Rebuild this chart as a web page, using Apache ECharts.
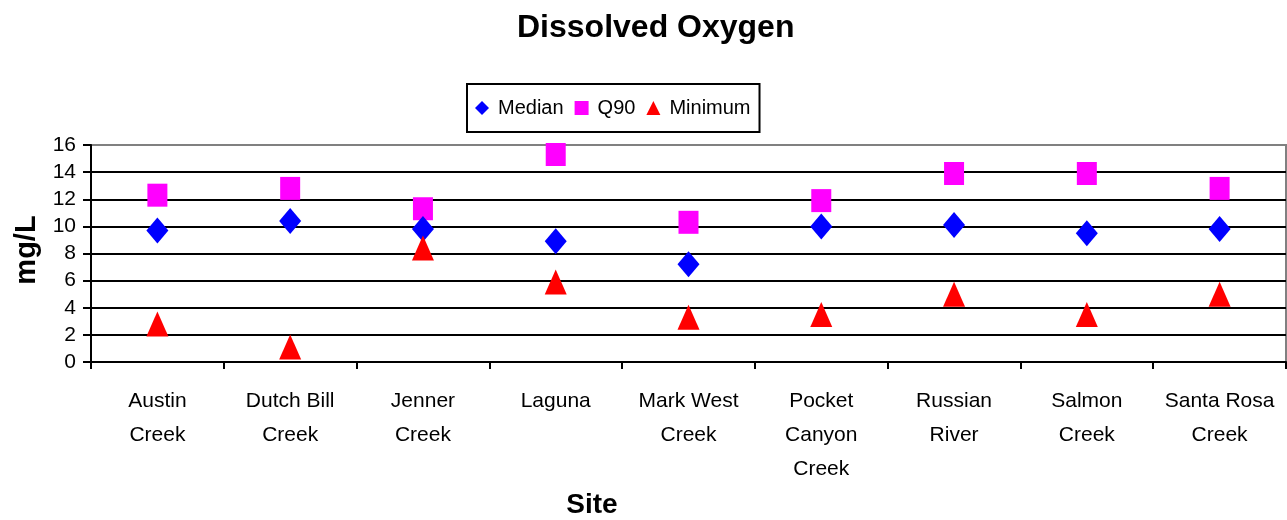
<!DOCTYPE html>
<html>
<head>
<meta charset="utf-8">
<title>Dissolved Oxygen</title>
<script src="https://cdn.jsdelivr.net/npm/echarts@6/dist/echarts.min.js"></script>
<style>
  html, body { margin: 0; padding: 0; background: #fff; }
  #chart { width: 1287px; height: 520px; }
</style>
</head>
<body>
<div id="chart"></div>
<script>
// Sampling sites along the Russian River watershed
const sites = [
  'Austin\nCreek', 'Dutch Bill\nCreek', 'Jenner\nCreek', 'Laguna',
  'Mark West\nCreek', 'Pocket\nCanyon\nCreek', 'Russian\nRiver',
  'Salmon\nCreek', 'Santa Rosa\nCreek'
];

// Dissolved oxygen statistics, mg/L
const medianValues  = [9.7, 10.4, 9.8, 8.9, 7.2, 10.0, 10.1, 9.5, 9.8];
const q90Values     = [12.3, 12.8, 11.3, 15.3, 10.3, 11.9, 13.9, 13.9, 12.8];
const minimumValues = [2.8, 1.1, 8.4, 5.9, 3.3, 3.5, 5.0, 3.5, 5.0];

const yTicks = [0, 2, 4, 6, 8, 10, 12, 14, 16];

const FONT = '"Liberation Sans", Arial, Helvetica, sans-serif';

const chart = echarts.init(document.getElementById('chart'), null, { renderer: 'canvas' });

// gridlines black, the top one grey to match the plot frame
const splitColors = yTicks.map((v, i) => (i === yTicks.length - 1 ? '#808080' : '#000000'));

chart.setOption({
  animation: false,
  backgroundColor: '#ffffff',
  textStyle: { fontFamily: FONT, color: '#000' },
  title: {
    text: 'Dissolved Oxygen',
    left: 512,
    top: 7,
    textStyle: { fontFamily: FONT, fontSize: 32, fontWeight: 'bold', color: '#000' }
  },
  legend: {
    left: 467,
    top: 84,
    orient: 'horizontal',
    padding: [14, 9, 14, 8],
    borderColor: '#000',
    borderWidth: 2,
    itemWidth: 14,
    itemHeight: 14,
    itemGap: 11,
    textStyle: { fontFamily: FONT, fontSize: 20, color: '#000', padding: [0, 0, 0, 4] },
    data: [
      { name: 'Median', icon: 'diamond' },
      { name: 'Q90', icon: 'rect' },
      { name: 'Minimum', icon: 'triangle' }
    ]
  },
  grid: {
    left: 91,
    right: 1,
    top: 145,
    bottom: 158,
    show: true,
    borderColor: '#808080',
    borderWidth: 2,
    containLabel: false
  },
  xAxis: {
    type: 'category',
    data: sites,
    boundaryGap: true,
    axisLine: { show: true, lineStyle: { color: '#000', width: 2 } },
    axisTick: { show: true, length: 7, interval: 0, lineStyle: { color: '#000', width: 2 } },
    axisLabel: {
      interval: 0,
      margin: 22,
      fontFamily: FONT,
      fontSize: 21,
      lineHeight: 34,
      color: '#000',
      align: 'center'
    },
    splitLine: { show: false }
  },
  yAxis: {
    type: 'value',
    min: 0,
    max: 16,
    interval: 2,
    axisLine: { show: true, lineStyle: { color: '#000', width: 2 } },
    axisTick: { show: true, length: 8, inside: false, lineStyle: { color: '#000', width: 2 } },
    axisLabel: { margin: 15, fontFamily: FONT, fontSize: 21, color: '#000' },
    splitLine: { show: true, lineStyle: { color: splitColors, width: 2 } }
  },
  graphic: [
    {
      type: 'text',
      x: 27,
      y: 250,
      rotation: Math.PI / 2,
      style: {
        text: 'mg/L',
        fontFamily: FONT,
        fontSize: 29,
        fontWeight: 'bold',
        fill: '#000',
        align: 'center',
        verticalAlign: 'middle'
      }
    },
    {
      type: 'text',
      x: 592,
      y: 505,
      style: {
        text: 'Site',
        fontFamily: FONT,
        fontSize: 28,
        fontWeight: 'bold',
        fill: '#000',
        align: 'center',
        verticalAlign: 'middle'
      }
    }
  ],
  series: [
    {
      name: 'Median',
      type: 'scatter',
      symbol: 'diamond',
      symbolSize: [22, 26],
      itemStyle: { color: '#0000FF', opacity: 1 },
      data: medianValues,
      z: 3
    },
    {
      name: 'Q90',
      type: 'scatter',
      symbol: 'rect',
      symbolSize: [20, 23],
      itemStyle: { color: '#FF00FF', opacity: 1 },
      data: q90Values,
      z: 2
    },
    {
      name: 'Minimum',
      type: 'scatter',
      symbol: 'triangle',
      symbolSize: [22, 25],
      itemStyle: { color: '#FF0000', opacity: 1 },
      data: minimumValues,
      z: 4
    }
  ]
});
</script>
</body>
</html>
